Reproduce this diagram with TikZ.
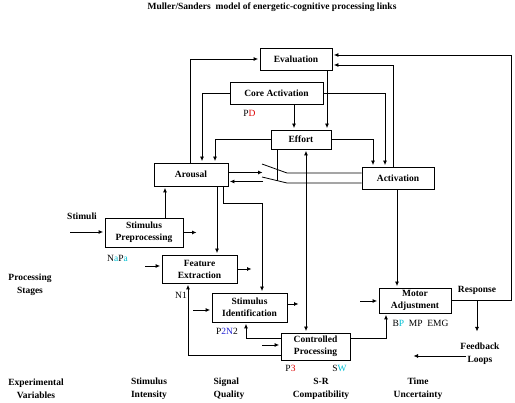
\documentclass[tikz,border=0pt]{standalone}
\usepackage{fontspec}
\setmainfont{Liberation Serif}
\usetikzlibrary{arrows.meta}

\definecolor{markred}{RGB}{220,0,0}
\definecolor{markcyan}{RGB}{0,190,210}
\definecolor{markblue}{RGB}{30,30,210}

\begin{document}
\begin{tikzpicture}[x=1pt, y=-1pt,
    >={Latex[length=4.5pt,width=4pt]},
    stage/.style={draw, line width=0.8pt, align=center, inner sep=0pt,
      font=\fontsize{9.5}{12}\selectfont\bfseries},
    caption/.style={align=center, inner sep=1pt, font=\fontsize{9.5}{13}\selectfont\bfseries},
    tag/.style={inner sep=1pt, font=\fontsize{9.5}{11}\selectfont},
    link/.style={line width=0.8pt},
    flow/.style={link, ->, shorten >=1.5pt}]
    \useasboundingbox (0, 0) rectangle (515, 403);
    \node[caption] (Title) at (272, 7) {Muller/Sanders\ \ model of energetic-cognitive processing links};
    % stages
    \node[stage, minimum width=72pt, minimum height=22pt] (Evaluation) at (296, 59) {Evaluation};
    \node[stage, minimum width=93pt, minimum height=22pt] (Core Activation) at (276.5, 93) {Core Activation};
    \node[stage, minimum width=60pt, minimum height=19pt] (Effort) at (301, 139.5) {Effort};
    \node[stage, minimum width=74pt, minimum height=23pt] (Arousal) at (191, 174.5) {Arousal};
    \node[stage, minimum width=72pt, minimum height=22pt] (Activation) at (398, 178) {Activation};
    \node[stage, minimum width=78pt, minimum height=29pt] (Stimulus Preprocessing) at (144, 232.5) {Stimulus\\Preprocessing};
    \node[stage, minimum width=75pt, minimum height=28pt] (Feature Extraction) at (199.5, 269) {Feature\\Extraction};
    \node[stage, minimum width=75pt, minimum height=29pt] (Stimulus Identification) at (249.5, 307.5) {Stimulus\\Identification};
    \node[stage, minimum width=69pt, minimum height=27pt] (Controlled Processing) at (315.5, 346.5) {Controlled\\Processing};
    \node[stage, minimum width=72pt, minimum height=25pt] (Motor Adjustment) at (415, 300.5) {Motor\\Adjustment};
    % side labels
    \node[caption] (Stimuli) at (82, 216.5) {Stimuli};
    \node[caption] (Processing Stages) at (30, 285) {Processing\\Stages};
    \node[caption] (Response) at (477, 290) {Response};
    \node[caption] (Feedback Loops) at (480, 354) {Feedback\\Loops};
    \node[caption] (Experimental Variables) at (36, 389) {Experimental\\Variables};
    \node[caption] (Stimulus Intensity) at (149, 389) {Stimulus\\Intensity};
    \node[caption, align=left] (Signal Quality) at (229, 389) {Signal\\Quality};
    \node[caption] (SR Compatibility) at (321, 389) {S-R\\Compatibility};
    \node[caption] (Time Uncertainty) at (418, 389) {Time\\Uncertainty};
    % measures
    \node[tag] (PD) at (249.5, 113) {P\textcolor{markred}{D}};
    \node[tag] (NaPa) at (117.5, 258) {N\textcolor{markcyan}{a}P\textcolor{markcyan}{a}};
    \node[tag] (N1) at (181, 295) {N1};
    \node[tag] (P2N2) at (227, 331) {P\textcolor{markblue}{2N}2};
    \node[tag] (P3) at (290.5, 368) {P\textcolor{markred}{3}};
    \node[tag] (SW) at (339.5, 368) {S\textcolor{markcyan}{W}};
    \node[tag] (BP MP EMG) at (420.5, 323.5) {B\textcolor{markcyan}{P}\ \ MP\ \ EMG};
    % free ends
    \coordinate (Stimuli In) at (70, 232);
    \coordinate (Preprocessing Out) at (198, 231);
    \coordinate (Extraction In) at (145, 266);
    \coordinate (Extraction Out) at (253, 267);
    \coordinate (Identification In) at (193, 310);
    \coordinate (Identification Out) at (300, 304);
    \coordinate (Controlled In) at (262, 345);
    \coordinate (Motor In) at (360, 301);
    \coordinate (Response Corner) at (511, 300.5);
    \coordinate (Response Split) at (477, 300.5);
    \coordinate (Feedback Arrow) at (477, 333);
    \coordinate (Loops Arrow) at (412, 356);
    \coordinate (Switch Upper In) at (264, 172.5);
    \coordinate (Switch Upper L) at (262, 164);
    \coordinate (Switch Upper R) at (287, 173);
    \coordinate (Switch Lower L) at (262, 177);
    \coordinate (Switch Lower R) at (287, 183);
    \coordinate (Switch Lower Out) at (263, 181.5);
    % stage stubs
    \draw[flow] (Stimuli In) -- (Stimuli In -| Stimulus Preprocessing.west);
    \draw[flow] (Stimulus Preprocessing.east) -- (Stimulus Preprocessing.east -| Preprocessing Out);
    \draw[flow] (Extraction In) -- (Extraction In -| Feature Extraction.west);
    \draw[flow] (Feature Extraction.east) -- (Feature Extraction.east -| Extraction Out);
    \draw[flow] (Identification In) -- (Identification In -| Stimulus Identification.west);
    \draw[flow] (Identification Out -| Stimulus Identification.east) -- (Identification Out);
    \draw[flow] (Controlled In) -- (Controlled In -| Controlled Processing.west);
    \draw[flow] (Motor In) -- (Motor In -| Motor Adjustment.west);
    % energetic links
    \draw[flow] ([xshift=-1pt]Arousal.north) |- (Evaluation.west);
    \draw[flow] (Core Activation.west) -| ([xshift=11pt]Arousal.north);
    \draw[flow] (Effort.west) -| ([xshift=24pt]Arousal.north);
    \draw[flow] ([xshift=17.5pt]Core Activation.south) -- ([xshift=17.5pt]Core Activation.south |- Effort.north);
    \draw[flow] ([xshift=31pt]Evaluation.south) -- ([xshift=31pt]Evaluation.south |- Effort.north);
    \draw[flow] (Core Activation.east) -| ([xshift=-13pt]Activation.north);
    \draw[flow] (Effort.east) -| ([xshift=-25pt]Activation.north);
    \draw[flow] ([xshift=-5pt]Activation.north) |- ([yshift=-6pt]Evaluation.east);
    \draw[flow] (Motor Adjustment.east) -- (Response Corner) |- ([yshift=4pt]Evaluation.east);
    \draw[flow] (Response Split) -- (Feedback Arrow);
    \draw[flow] ([xshift=7pt, yshift=-2pt]Feedback Loops.west) -- (Loops Arrow);
    % switch
    \draw[flow] ([yshift=2pt]Arousal.east) -- (Switch Upper In);
    \draw[link] (Switch Upper L) -- (Switch Upper R) -- ([yshift=5pt]Activation.west);
    \draw[link] ([yshift=-5pt]Activation.west) -- (Switch Lower R) -- (Switch Lower L);
    \draw[flow] (Switch Lower Out) -- ([yshift=-7pt]Arousal.east);
    \draw[link] ([xshift=-24pt]Effort.south) -- ([xshift=-24pt]Effort.south |- Switch Lower Out);
    % processing links
    \draw[flow] ([xshift=21pt]Stimulus Preprocessing.north) -- ([xshift=21pt]Stimulus Preprocessing.north |- Arousal.south);
    \draw[flow] ([xshift=26pt]Arousal.south) -- ([xshift=26pt]Arousal.south |- Feature Extraction.north);
    \draw[flow] ([xshift=32pt]Arousal.south) -- ++(0, 17) -| ([xshift=12.5pt]Stimulus Identification.north);
    \draw[flow, <->, shorten <=1.5pt] ([xshift=5pt]Effort.south) -- ([xshift=5pt]Effort.south |- Controlled Processing.north);
    \draw[flow] ([xshift=-1pt]Activation.south) -- ([xshift=-1pt]Activation.south |- Motor Adjustment.north);
    \draw[flow] ([yshift=8.5pt]Controlled Processing.east) -| ([xshift=-29pt]Motor Adjustment.south);
    \draw[flow] ([yshift=-8.5pt]Controlled Processing.west) -| ([xshift=-11.5pt]Feature Extraction.south);
    \draw[flow] ([yshift=8.5pt]Controlled Processing.west) -| ([xshift=-3.5pt]Stimulus Identification.south);
  \end{tikzpicture}
\end{document}
